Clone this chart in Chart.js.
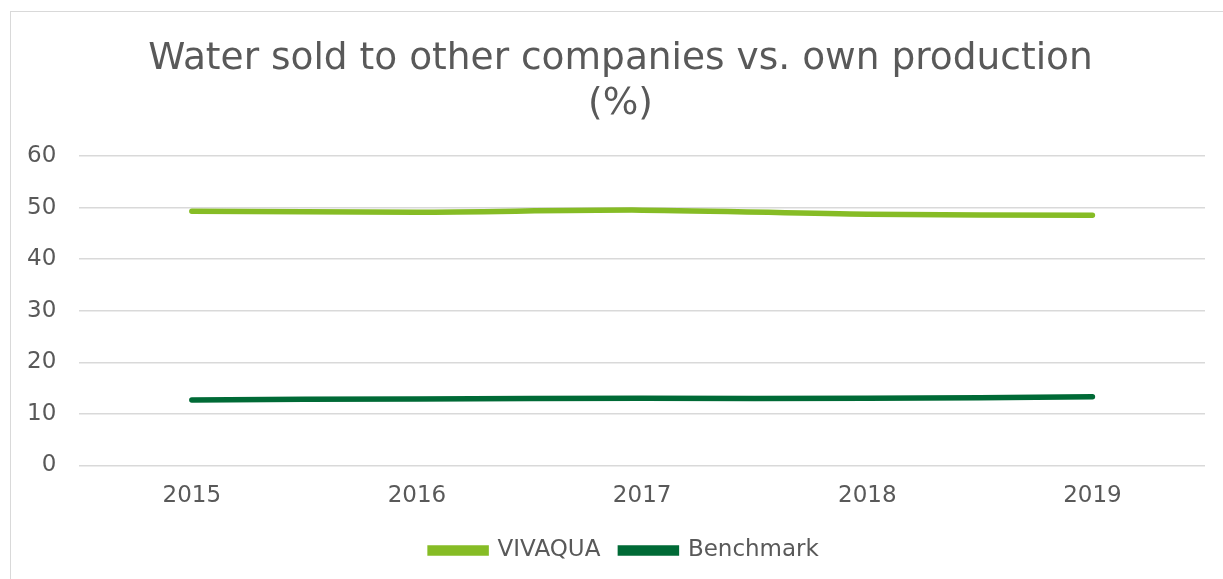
<!DOCTYPE html>
<html>
<head>
<meta charset="utf-8">
<script src="https://cdn.jsdelivr.net/npm/chart.js@4"></script>
<style>
  html, body { margin: 0; padding: 0; background: #fff; }
  #wrap { position: relative; width: 1223px; height: 579px; }
  #frame { position: absolute; left: 10px; top: 11px; width: 1220px; height: 580px; border: 1px solid #d9d9d9; box-sizing: border-box; }
  canvas { position: absolute; left: 0; top: 0; }
</style>
</head>
<body>
<div id="wrap">
  <div id="frame"></div>
  <canvas id="chart" width="1223" height="579"></canvas>
</div>
<script>
var years = ["2015", "2016", "2017", "2018", "2019"];
var vivaqua = [49.3, 49.1, 49.5, 48.7, 48.5];
var benchmark = [12.7, 12.9, 13.0, 13.0, 13.3];
var yTicks = [0, 10, 20, 30, 40, 50, 60];

var grey = "#595959";
var fontFamily = "'DejaVu Sans', Verdana, sans-serif";

// title and legend sit centred on the whole frame, not on the padded box
var shiftBlocks = {
  id: "shiftBlocks",
  afterLayout: function (chart) {
    if (chart.titleBlock) {
      chart.titleBlock.left += 16;
      chart.titleBlock.right += 16;
    }
    if (chart.legend) {
      chart.legend.left += 20;
      chart.legend.right += 20;
    }
  },
};

var ctx = document.getElementById("chart").getContext("2d");

var chart = new Chart(ctx, {
  type: "line",
  data: {
    labels: years,
    datasets: [
      {
        label: "VIVAQUA",
        data: vivaqua,
        borderColor: "#86bc25",
        backgroundColor: "#86bc25",
        borderWidth: 5.5,
        pointRadius: 0,
        tension: 0.3,
        borderCapStyle: "round",
      },
      {
        label: "Benchmark",
        data: benchmark,
        borderColor: "#006a36",
        backgroundColor: "#006a36",
        borderWidth: 5.5,
        pointRadius: 0,
        tension: 0.3,
        borderCapStyle: "round",
      },
    ],
  },
  options: {
    responsive: false,
    animation: false,
    layout: { padding: { left: 4, right: 18, top: 25, bottom: 7 } },
    plugins: {
      title: {
        display: true,
        text: ["Water sold to other companies vs. own production", "(%)"],
        color: grey,
        font: { family: fontFamily, size: 37.5, weight: "normal", lineHeight: 1.2 },
        padding: { top: 12, bottom: 29 },
      },
      legend: {
        position: "bottom",
        labels: {
          color: grey,
          font: { family: fontFamily, size: 23 },
          boxWidth: 56,
          boxHeight: 5,
          padding: 20,
        },
      },
      tooltip: { enabled: false },
    },
    scales: {
      x: {
        offset: true,
        grid: { display: false },
        border: { display: false },
        ticks: { color: grey, font: { family: fontFamily, size: 23 }, padding: 9 },
      },
      y: {
        min: 0,
        max: 60,
        afterBuildTicks: function (axis) {
          axis.ticks = yTicks.map(function (v) { return { value: v }; });
        },
        grid: { color: "#d9d9d9", lineWidth: 1.5, drawTicks: false },
        border: { display: false },
        ticks: { color: grey, font: { family: fontFamily, size: 23 }, padding: 23 },
      },
    },
  },
  plugins: [shiftBlocks],
});
</script>
</body>
</html>
